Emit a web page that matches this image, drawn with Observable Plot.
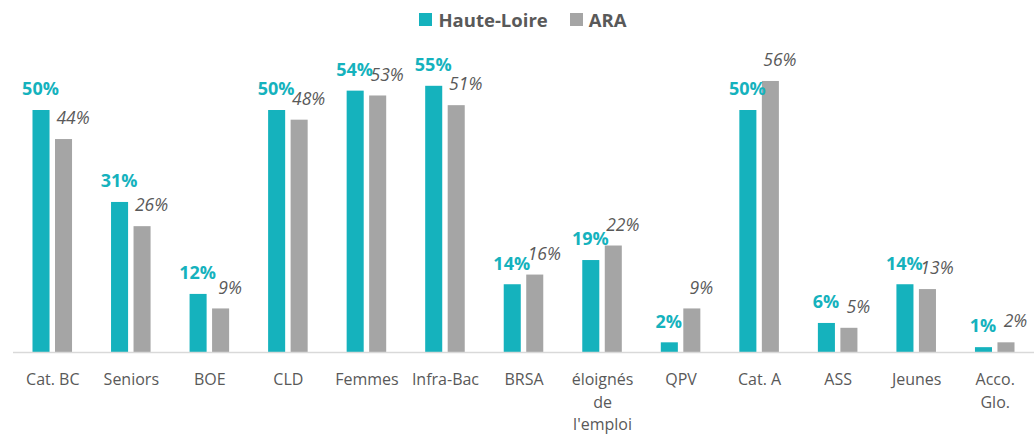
<!DOCTYPE html>
<html>
<head>
<meta charset="utf-8">
<script src="https://cdn.jsdelivr.net/npm/d3@7"></script>
<script src="https://cdn.jsdelivr.net/npm/@observablehq/plot@0.6"></script>
<style>
  html, body { margin: 0; padding: 0; background: #fff; }
  body { width: 1034px; height: 434px; overflow: hidden; font-family: "Open Sans", sans-serif; }
  #legend { height: 36px; display: flex; justify-content: center; align-items: center; gap: 0; padding-left: 12px; box-sizing: border-box; padding-top: 2px; }
  .item { display: flex; align-items: center; font-weight: bold; font-size: 18.5px; color: #595959; margin: 0 11px; }
  .sw { width: 13px; height: 13px; margin-right: 6px; }
</style>
</head>
<body>
<div id="legend"></div>
<div id="chart"></div>
<script>
const categories = ["Cat. BC", "Seniors", "BOE", "CLD", "Femmes", "Infra-Bac", "BRSA", "éloignés de l'emploi", "QPV", "Cat. A", "ASS", "Jeunes", "Acco. Glo."];
const tickLabels = ["Cat. BC", "Seniors", "BOE", "CLD", "Femmes", "Infra-Bac", "BRSA", "éloignés\nde\nl'emploi", "QPV", "Cat. A", "ASS", "Jeunes", "Acco.\nGlo."];
const seriesNames = ["Haute-Loire", "ARA"];
const hauteLoire = [50, 31, 12, 50, 54, 55, 14, 19, 2, 50, 6, 14, 1];
const ara = [44, 26, 9, 48, 53, 51, 16, 22, 9, 56, 5, 13, 2];
const colors = ["#15B2BD", "#A5A5A5"];

const hl = categories.map((c, i) => ({cat: c, value: hauteLoire[i]}));
const ar = categories.map((c, i) => ({cat: c, value: ara[i]}));
const labelOf = new Map(categories.map((c, i) => [c, tickLabels[i]]));

// legend
const legend = document.getElementById("legend");
seriesNames.forEach((s, i) => {
  const it = document.createElement("div");
  it.className = "item";
  it.innerHTML = `<span class="sw" style="background:${colors[i]}"></span><span>${s}</span>`;
  legend.appendChild(it);
});

const off = 11.25;
const chart = Plot.plot({
  width: 1034,
  height: 398,
  marginLeft: 13,
  marginRight: 0,
  marginTop: 25.6,
  marginBottom: 82,
  style: {fontFamily: "Open Sans", fontSize: "16px", background: "#fff"},
  x: {domain: categories, paddingInner: 0.783, paddingOuter: 0.3915, align: 0.5, round: false},
  y: {domain: [0, 60], axis: null},
  marks: [
    Plot.barY(hl, {x: "cat", y: "value", fill: colors[0], dx: -off}),
    Plot.barY(ar, {x: "cat", y: "value", fill: colors[1], dx: off}),
    Plot.ruleY([0], {stroke: "#D9D9D9", strokeWidth: 1.5}),
    Plot.text(hl, {x: "cat", y: "value", text: d => d.value + "%", dx: -off - 1, dy: -21, fill: colors[0], fontWeight: "bold", fontSize: 18}),
    Plot.text(ar, {x: "cat", y: "value", text: d => d.value + "%", dx: off + 9, dy: -21, fill: "#595959", fontStyle: "italic", fontSize: 17.5}),
    Plot.axisX({tickSize: 0, tickPadding: 17, fontSize: 16, lineHeight: 1.4, fill: "#595959", tickFormat: d => labelOf.get(d), label: null})
  ]
});
document.getElementById("chart").appendChild(chart);
</script>
</body>
</html>
